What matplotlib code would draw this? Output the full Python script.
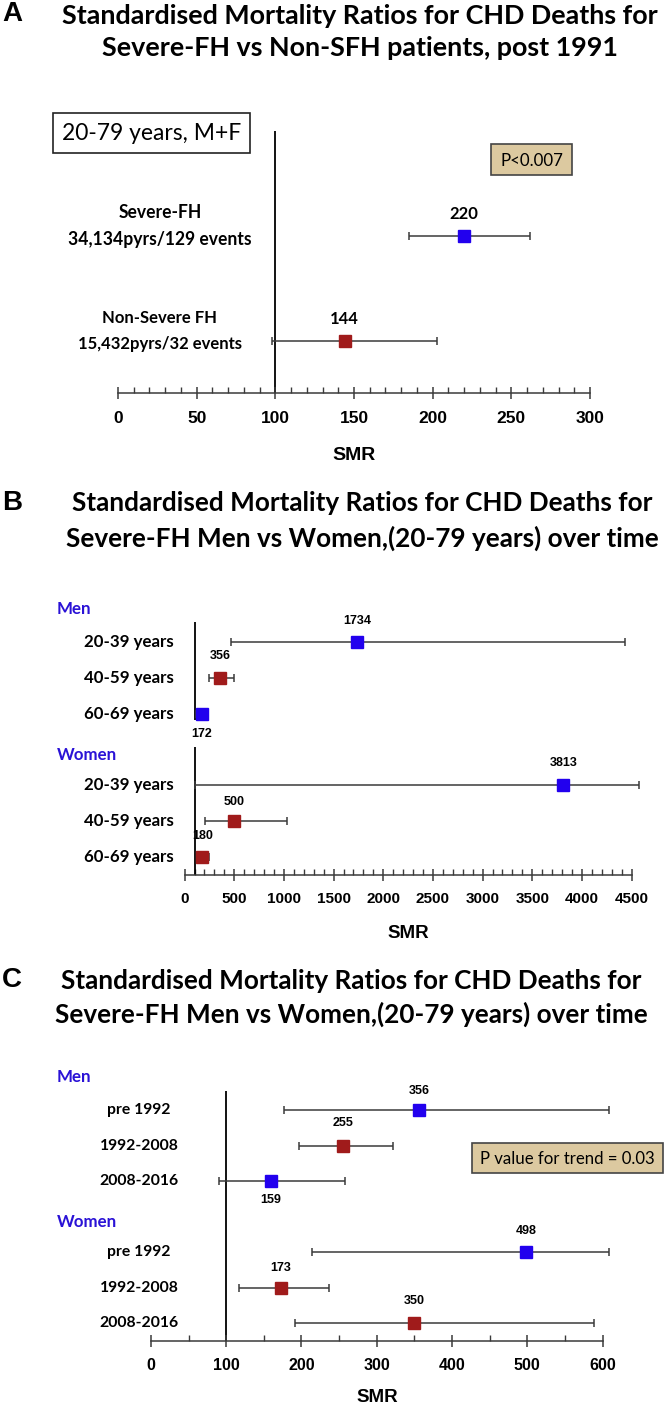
import matplotlib
matplotlib.use("Agg")
import matplotlib.pyplot as plt
from matplotlib import font_manager as fm
from matplotlib.patches import Rectangle
from matplotlib.ticker import MultipleLocator
from matplotlib.transforms import blended_transform_factory

# ---------------- data ----------------
a_groups = ["Severe-FH", "Non-Severe FH"]
a_details = ["34,134pyrs/129 events", "15,432pyrs/32 events"]
a_smr = [220, 144]
a_lo = [185, 98]
a_hi = [262, 203]

b_men_labels = ["20-39 years", "40-59 years", "60-69 years"]
b_men_smr = [1734, 356, 172]
b_men_lo = [469, 246, 112]
b_men_hi = [4433, 498, 227]
b_women_labels = ["20-39 years", "40-59 years", "60-69 years"]
b_women_smr = [3813, 500, 180]
b_women_lo = [100, 207, 120]
b_women_hi = [4570, 1029, 246]

c_men_labels = ["pre 1992", "1992-2008", "2008-2016"]
c_men_smr = [356, 255, 159]
c_men_lo = [177, 197, 90]
c_men_hi = [608, 322, 258]
c_women_labels = ["pre 1992", "1992-2008", "2008-2016"]
c_women_smr = [498, 173, 350]
c_women_lo = [214, 117, 191]
c_women_hi = [608, 237, 589]

a_xticks = list(range(0, 301, 50))
b_xticks = list(range(0, 4501, 500))
c_xticks = list(range(0, 601, 100))

title_line1 = "Standardised Mortality Ratios for CHD Deaths for"
title_a2 = "Severe-FH vs Non-SFH patients, post 1991"
title_bc2 = "Severe-FH Men vs Women,(20-79 years) over time"

# ---------------- style ----------------
W, H, DPI = 669, 1408, 100
BLUE = "#2200EE"
RED = "#A01B1B"
HEAD = "#2A12D6"
TAN = "#DCC9A0"
LINE = "#3A3A3A"


def has_font(name):
    try:
        fm.findfont(name, fallback_to_default=False)
        return True
    except Exception:
        return False


CAL = "Lato" if has_font("Lato") else "Open Sans"
ARI = "Liberation Sans" if has_font("Liberation Sans") else "DejaVu Sans"
HAS_NARROW = has_font("Liberation Sans Narrow")
NAR = "Liberation Sans Narrow" if HAS_NARROW else ARI
NSCALE = 1.22 if HAS_NARROW else 1.0
plt.rcParams["font.family"] = [CAL, "DejaVu Sans"]

fig = plt.figure(figsize=(W / DPI, H / DPI), dpi=DPI)
fig.patch.set_facecolor("white")

fits = []


def fx(px):
    return px / W


def fy(py):
    return 1 - py / H


def ftext(px, py, s, **kw):
    return fig.text(fx(px), fy(py), s, **kw)


def make_axes(x0, x1, top, bot, xmax, y0px, step, ticks, minor, tsize, pad, tfont):
    ax = fig.add_axes([fx(x0), fy(bot), (x1 - x0) / W, (bot - top) / H])
    ax.set_xlim(0, xmax)
    ax.set_ylim((bot - y0px) / step, (top - y0px) / step)
    for s in ["left", "right", "top"]:
        ax.spines[s].set_visible(False)
    ax.spines["bottom"].set_color(LINE)
    ax.spines["bottom"].set_linewidth(1.1)
    ax.set_yticks([])
    ax.set_xticks(ticks)
    ax.xaxis.set_minor_locator(MultipleLocator(minor))
    ax.tick_params(axis="x", which="major", direction="inout", length=8,
                   width=1.1, color=LINE, pad=pad, labelsize=tsize)
    ax.tick_params(axis="x", which="minor", direction="in", length=4,
                   width=1.0, color=LINE)
    for lab in ax.get_xticklabels():
        lab.set_fontfamily(tfont)
        lab.set_fontweight("bold")
    ax.patch.set_alpha(0)
    return ax


def draw_rows(ax, rows, smr, lo, hi, colors, offsets, msize, asize, afont):
    for r, v, l, h, c, o in zip(rows, smr, lo, hi, colors, offsets):
        ax.errorbar([v], [r], xerr=[[v - l], [h - v]], fmt="none",
                    ecolor=LINE, elinewidth=1.1, capsize=2.6, capthick=1.1,
                    clip_on=False, zorder=2)
        ax.plot([v], [r], marker="s", ms=msize, color=c, mec=c,
                linestyle="none", clip_on=False, zorder=3)
        ax.annotate(str(v), (v, r), xytext=(0, o), textcoords="offset points",
                    ha="center", va="center", fontsize=asize,
                    fontweight="bold", family=afont, annotation_clip=False)


def box(x0, y0, x1, y1, fc, ec, s, target):
    fig.patches.append(Rectangle((fx(x0), fy(y1)), (x1 - x0) / W, (y1 - y0) / H,
                                 transform=fig.transFigure, facecolor=fc,
                                 edgecolor=ec, linewidth=1.2, zorder=1))
    t = ftext((x0 + x1) / 2, (y0 + y1) / 2 + 1, s, ha="center", va="center",
              fontsize=13, zorder=2)
    fits.append(([t], target))


def title(letter, ly, cx, y1, y2, line2, w1):
    ftext(12, ly, letter, ha="center", va="center", fontsize=20,
          fontweight="bold", family=ARI)
    t1 = ftext(cx, y1, title_line1, ha="center", va="center", fontsize=17,
               fontweight="bold")
    t2 = ftext(cx, y2, line2, ha="center", va="center", fontsize=17,
               fontweight="bold")
    fits.append(([t1, t2], w1))


# ---------------- panel A ----------------
title("A", 14, 360, 16, 48, title_a2, 598)
axA = make_axes(118, 590, 131, 393, a_xticks[-1], 236, 105, a_xticks, 10, 12.5, 9, ARI)
a_rows = list(range(len(a_smr)))
axA.axvline(100, color="black", lw=1.3, zorder=1)
draw_rows(axA, a_rows, a_smr, a_lo, a_hi, [BLUE, RED], [16, 16], 8.8, 12, CAL)
trA = blended_transform_factory(fig.transFigure, axA.transData)
for r, g, d in zip(a_rows, a_groups, a_details):
    t1 = axA.text(fx(160), r - 0.22, g, transform=trA, ha="center",
                  va="center", fontsize=12, fontweight="bold")
    t2 = axA.text(fx(160), r + 0.03, d, transform=trA, ha="center",
                  va="center", fontsize=12, fontweight="bold")
    if r == 0:
        fits.append(([t2, t1], 183))
ftext(354, 455, "SMR", ha="center", va="center", fontsize=14,
      fontweight="bold", family=ARI)
box(52.5, 113, 250, 153, "white", "#222222", "20-79 years, M+F", 179)
box(491, 144, 572, 175, TAN, "#444444", "P<0.007", 63)

# ---------------- panel B ----------------
title("B", 503, 362, 503, 538, title_bc2, 580)
axB = make_axes(184.6, 631.6, 622, 875, b_xticks[-1], 642, 35.8, b_xticks, 100,
                11 * NSCALE, 8, NAR)
b_men_rows = [0, 1, 2]
b_women_rows = [4, 5, 6]
axB.vlines(100, b_men_rows[0] - 0.56, b_men_rows[-1] + 0.18, color="black", lw=1.3)
axB.vlines(100, b_women_rows[0] - 1.07, 6.6, color="black", lw=1.3)
draw_rows(axB, b_men_rows, b_men_smr, b_men_lo, b_men_hi,
          [BLUE, RED, BLUE], [15, 16, -14.5], 9.3, 9 * NSCALE, NAR)
draw_rows(axB, b_women_rows, b_women_smr, b_women_lo, b_women_hi,
          [BLUE, RED, RED], [16, 14, 15], 9.3, 9 * NSCALE, NAR)
trB = blended_transform_factory(fig.transFigure, axB.transData)
lblB = []
for r, s in zip(b_men_rows + b_women_rows, b_men_labels + b_women_labels):
    lblB.append(axB.text(fx(174), r, s, transform=trB, ha="right", va="center",
                         fontsize=11, fontweight="bold"))
fits.append((lblB, 90))
hB = [axB.text(fx(57), b_men_rows[0] - 0.93, "Men", transform=trB, ha="left",
               va="center", fontsize=12.5, fontweight="bold", color=HEAD),
      axB.text(fx(57), b_women_rows[0] - 0.84, "Women", transform=trB, ha="left",
               va="center", fontsize=12.5, fontweight="bold", color=HEAD)]
fits.append(([hB[1], hB[0]], 60))
ftext(408, 933, "SMR", ha="center", va="center", fontsize=13.5,
      fontweight="bold", family=ARI)

# ---------------- panel C ----------------
title("C", 980, 351, 981, 1014, title_bc2, 582)
axC = make_axes(150.9, 602.6, 1091, 1341, c_xticks[-1], 1110, 35.5, c_xticks, 50,
                11.5, 8, ARI)
c_men_rows = [0, 1, 2]
c_women_rows = [4, 5, 6]
axC.axvline(100, color="black", lw=1.3, zorder=1)
draw_rows(axC, c_men_rows, c_men_smr, c_men_lo, c_men_hi,
          [BLUE, RED, BLUE], [14, 16, -14], 9.3, 9 * NSCALE, NAR)
draw_rows(axC, c_women_rows, c_women_smr, c_women_lo, c_women_hi,
          [BLUE, RED, RED], [15, 14, 16], 9.3, 9 * NSCALE, NAR)
trC = blended_transform_factory(fig.transFigure, axC.transData)
lblC = []
for r, s in zip(c_men_rows + c_women_rows, c_men_labels + c_women_labels):
    lblC.append(axC.text(fx(139), r, s, transform=trC, ha="center", va="center",
                         fontsize=11, fontweight="bold"))
fits.append(([lblC[1]] + lblC, 79))
axC.text(fx(57), c_men_rows[0] - 0.93, "Men", transform=trC, ha="left",
         va="center", fontsize=12.5, fontweight="bold", color=HEAD)
axC.text(fx(57), c_women_rows[0] - 0.85, "Women", transform=trC, ha="left",
         va="center", fontsize=12.5, fontweight="bold", color=HEAD)
ftext(377, 1397, "SMR", ha="center", va="center", fontsize=13.5,
      fontweight="bold", family=ARI)
box(472, 1143, 663, 1173, TAN, "#444444", "P value for trend = 0.03", 174)

# ---------------- fit text widths ----------------
fig.canvas.draw()
rend = fig.canvas.get_renderer()
for texts, target in fits:
    wpx = texts[0].get_window_extent(rend).width
    if wpx > 0:
        fs = texts[0].get_fontsize() * target / wpx
        for t in texts:
            t.set_fontsize(fs)
# keep header sizes consistent
for t in axC.texts:
    if t.get_text() in ("Men", "Women"):
        t.set_fontsize(hB[0].get_fontsize())

fig.savefig("out.png", dpi=DPI, facecolor="white")
